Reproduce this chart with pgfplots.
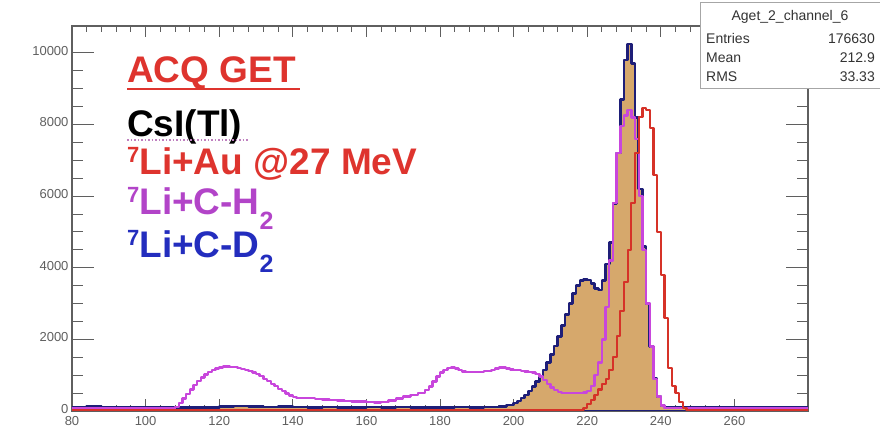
\documentclass[border=0pt]{standalone}
\usepackage{pgfplots}
\pgfplotsset{compat=1.18}
\usepackage{fontspec}
\setmainfont{Liberation Sans}
\definecolor{cdblue}{RGB}{30,30,120}
\definecolor{cdfill}{RGB}{214,168,108}
\definecolor{chmag}{RGB}{200,70,220}
\definecolor{aured}{RGB}{214,50,40}
\definecolor{axgray}{RGB}{95,95,95}
\definecolor{txtred}{RGB}{222,52,46}
\definecolor{txtmag}{RGB}{178,68,200}
\definecolor{txtblue}{RGB}{35,45,190}

\begin{document}
\begin{tikzpicture}
\useasboundingbox (-72pt,-22pt) rectangle (808pt,411pt);
\begin{axis}[
  at={(0,0)}, anchor=south west, scale only axis,
  width=736pt, height=385pt,
  xmin=80, xmax=280, ymin=0, ymax=10750,
  axis line style={axgray, line width=1.4pt},
  tick align=inside,
  xtick={80,100,...,260}, minor x tick num=4,
  ytick=\empty,
  major tick length=11.5pt, minor tick length=6pt,
  tick style={axgray, line width=0.9pt},
  xticklabel style={font=\fontsize{13}{13}\selectfont, text=axgray, yshift=-2pt},
  /pgf/number format/assume math mode=true,
  /pgf/number format/1000 sep={},
  scaled ticks=false,
]
\addplot[const plot, draw=cdblue, fill=cdfill, line width=2.6pt, line join=round] table[row sep=\\] {
x y\\
80 110\\ 84 120\\ 88 100\\ 92 110\\ 96 100\\ 100 95\\ 104 110\\ 108 100\\ 112 100\\ 116 105\\
120 120\\ 124 140\\ 128 120\\ 132 110\\ 136 130\\ 140 110\\ 144 100\\ 148 110\\ 152 100\\ 156 105\\
160 110\\ 164 100\\ 168 110\\ 172 100\\ 176 105\\ 180 100\\ 184 110\\ 188 100\\ 192 110\\ 196 130\\
198 170\\ 200 220\\ 201 280\\ 202 360\\ 203 450\\ 204 560\\ 205 680\\ 206 820\\ 207 980\\ 208 1150\\
209 1350\\ 210 1580\\ 211 1820\\ 212 2080\\ 213 2380\\ 214 2700\\ 215 3000\\ 216 3280\\ 217 3500\\ 218 3640\\
219 3680\\ 220 3660\\ 221 3560\\ 222 3420\\ 223 3380\\ 224 3650\\ 225 4100\\ 226 4700\\ 227 5800\\ 228 7200\\
229 8700\\ 230 9800\\ 231 10250\\ 232 9700\\ 233 8200\\ 234 6200\\ 235 4600\\ 236 3000\\ 237 1800\\ 238 900\\
239 400\\ 240 150\\ 241 100\\ 245 90\\ 250 100\\ 255 90\\ 260 100\\ 265 90\\ 270 95\\ 275 90\\ 280 90\\
} \closedcycle;
\addplot[const plot, draw=chmag, line width=2.4pt, line join=round] table[row sep=\\] {
x y\\
80 70\\ 84 80\\ 88 70\\ 92 80\\ 96 70\\ 100 80\\ 104 70\\ 108 120\\ 109 220\\ 110 350\\
111 480\\ 112 600\\ 113 720\\ 114 830\\ 115 930\\ 116 1020\\ 117 1090\\ 118 1150\\ 119 1190\\ 120 1220\\
121 1240\\ 122 1240\\ 123 1235\\ 124 1225\\ 125 1205\\ 126 1180\\ 127 1150\\ 128 1120\\ 129 1080\\ 130 1030\\
131 970\\ 132 900\\ 133 830\\ 134 760\\ 135 690\\ 136 620\\ 137 560\\ 138 490\\ 139 430\\ 140 390\\
141 370\\ 142 360\\ 144 355\\ 146 340\\ 148 320\\ 150 300\\ 152 290\\ 154 280\\ 156 270\\ 158 260\\
160 250\\ 162 240\\ 164 250\\ 166 290\\ 168 350\\ 170 400\\ 172 450\\ 174 500\\ 176 580\\ 177 680\\
178 820\\ 179 960\\ 180 1070\\ 181 1150\\ 182 1200\\ 183 1210\\ 184 1190\\ 185 1140\\ 186 1100\\ 187 1090\\
188 1085\\ 190 1090\\ 192 1110\\ 194 1150\\ 195 1190\\ 196 1210\\ 197 1210\\ 198 1190\\ 199 1160\\ 200 1150\\
201 1140\\ 202 1120\\ 203 1100\\ 204 1090\\ 205 1080\\ 206 1040\\ 207 960\\ 208 860\\ 209 760\\ 210 660\\
211 580\\ 212 530\\ 213 510\\ 214 500\\ 216 500\\ 218 505\\ 219 520\\ 220 560\\ 221 700\\ 222 1000\\
223 1350\\ 224 2000\\ 225 2900\\ 226 4200\\ 227 5800\\ 228 7200\\ 229 7950\\ 230 8250\\ 231 8400\\ 232 8200\\
233 7600\\ 234 6000\\ 235 4500\\ 236 3000\\ 237 1800\\ 238 900\\ 239 400\\ 240 150\\ 241 90\\ 245 80\\
250 90\\ 255 80\\ 260 90\\ 265 80\\ 270 85\\ 275 80\\ 280 80\\
};
\addplot[const plot, draw=aured, line width=2.2pt, line join=round] table[row sep=\\] {
x y\\
80 25\\ 120 20\\ 160 25\\ 200 20\\ 219 80\\ 220 200\\ 221 300\\ 222 450\\ 223 600\\ 224 750\\
225 900\\ 226 1150\\ 227 1500\\ 228 2100\\ 229 2800\\ 230 3600\\ 231 4500\\ 232 5800\\ 233 7200\\ 234 8200\\
235 8450\\ 236 8400\\ 237 7900\\ 238 6600\\ 239 5000\\ 240 3800\\ 241 2600\\ 242 1200\\ 243 700\\ 244 500\\
245 250\\ 246 90\\ 247 30\\ 260 25\\ 280 25\\
};
\end{axis}
\begin{axis}[
  at={(0,0)}, anchor=south west, scale only axis,
  width=736pt, height=385pt,
  xmin=80, xmax=280, ymin=0, ymax=10750,
  axis line style={draw=none},
  tick align=inside,
  xtick=\empty,
  ytick={0,2000,...,10000}, minor y tick num=3,
  major tick length=22pt, minor tick length=11pt,
  tick style={axgray, line width=0.9pt},
  yticklabel style={font=\fontsize{13}{13}\selectfont, text=axgray, yshift=2pt},
  /pgf/number format/assume math mode=true,
  /pgf/number format/1000 sep={},
  scaled ticks=false,
]
\end{axis}
% statistics box
\draw[fill=white, draw=gray!70, line width=0.8pt] (628pt,323pt) rectangle (808pt,409pt);
\begin{scope}[every node/.style={font=\fontsize{14}{14}\selectfont, text=black!80, inner sep=0pt}]
\node[anchor=center] at (718pt,394pt) {Aget\_2\_channel\_6};
\node[anchor=west] at (634pt,372pt) {Entries};
\node[anchor=east] at (803pt,372pt) {176630};
\node[anchor=west] at (634pt,353pt) {Mean};
\node[anchor=east] at (803pt,353pt) {212.9};
\node[anchor=west] at (634pt,334pt) {RMS};
\node[anchor=east] at (803pt,334pt) {33.33};
\end{scope}
% labels
\begin{scope}[every node/.style={anchor=base west, inner sep=0pt, font=\fontsize{37}{37}\selectfont\bfseries}]
\node[text=txtred] at (55pt,328pt) {ACQ GET};
\draw[txtred, line width=2.5pt] (55pt,322pt) -- (228pt,322pt);
\node[text=black] at (55pt,274pt) {CsI(Tl)};
\draw[violet!50, line width=1.5pt, dotted] (55pt,271pt) -- (176pt,271pt);
\node[text=txtred] at (55pt,236pt) {\raisebox{12pt}{\fontsize{22}{22}\selectfont 7}Li+Au @27 MeV};
\node[text=txtmag] at (55pt,196pt) {\raisebox{12pt}{\fontsize{22}{22}\selectfont 7}Li+C-H\raisebox{-15pt}{\fontsize{25}{25}\selectfont 2}};
\node[text=txtblue] at (55pt,153pt) {\raisebox{12pt}{\fontsize{22}{22}\selectfont 7}Li+C-D\raisebox{-15pt}{\fontsize{25}{25}\selectfont 2}};
\end{scope}
\end{tikzpicture}
\end{document}
